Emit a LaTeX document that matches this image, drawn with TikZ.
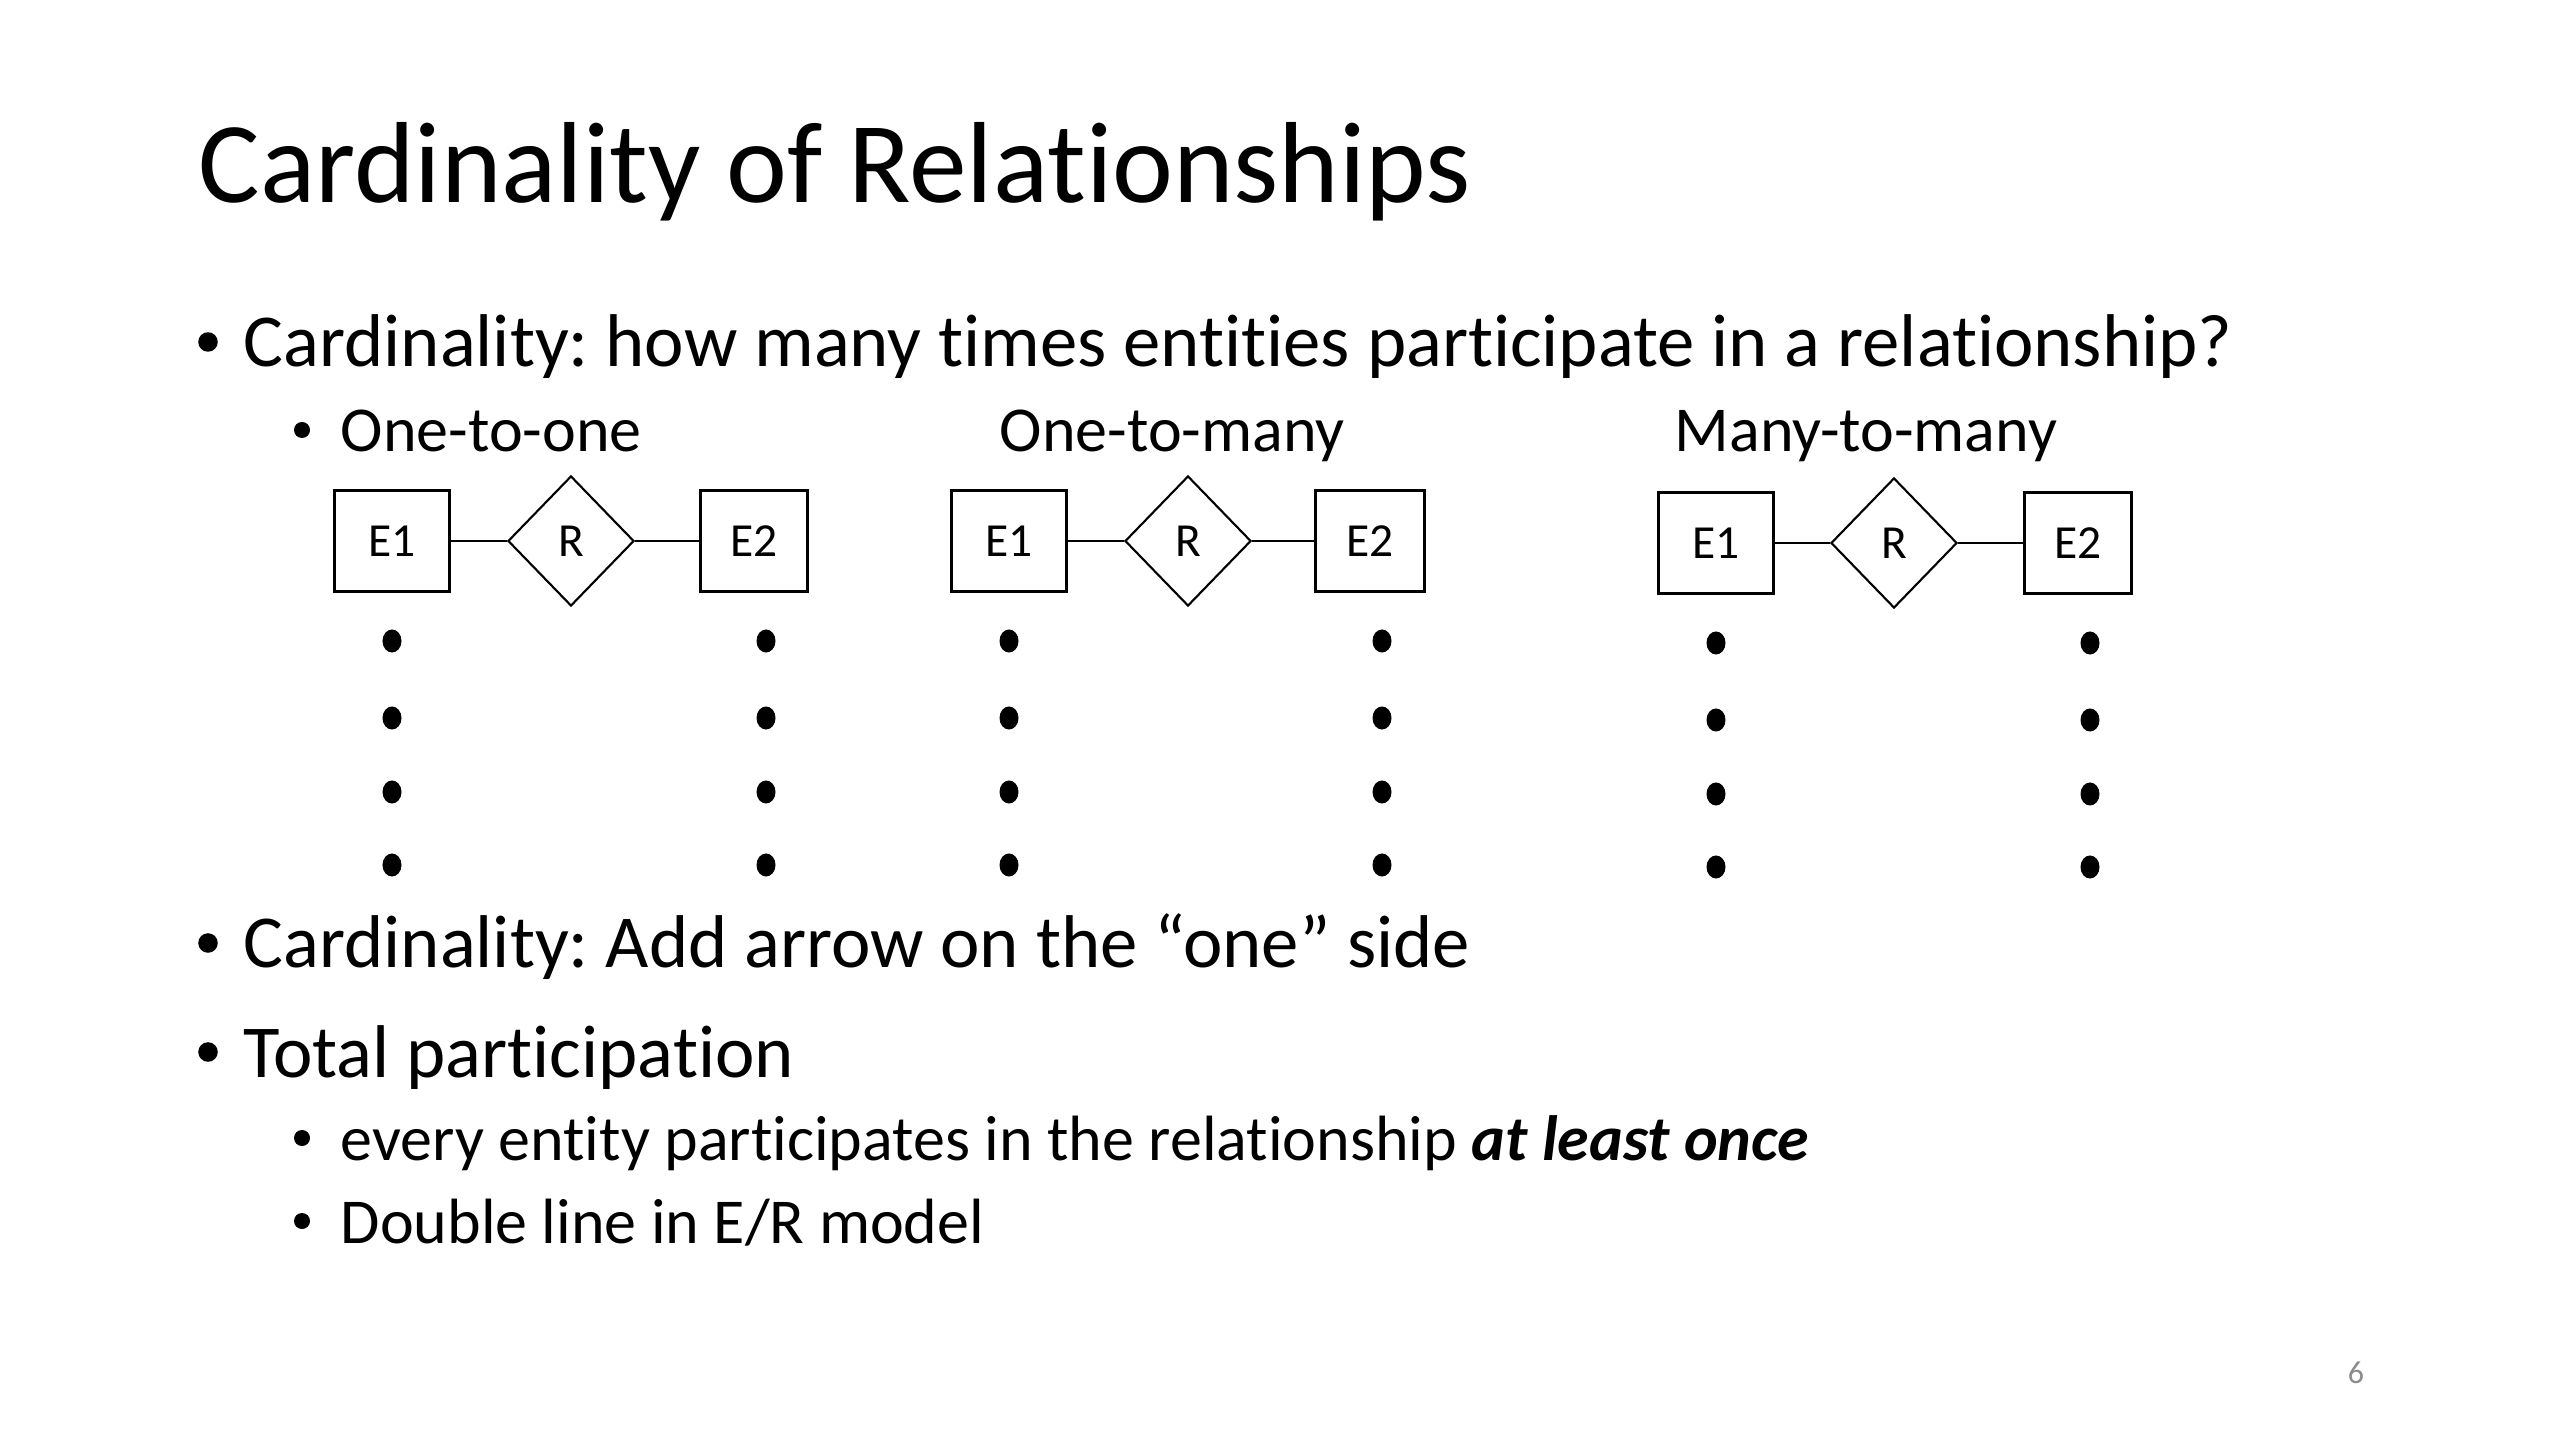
\documentclass[tikz,border=0pt]{standalone}
\usepackage{fontspec}
\setmainfont{Carlito}[Ligatures=NoCommon]
\usepackage{tikz}
\usetikzlibrary{shapes.geometric}

\definecolor{pagegray}{RGB}{140,140,140}

\tikzset{
	titletext/.style={anchor=base west, inner sep=0pt, font=\fontsize{32.8}{40}\selectfont},
	firsttext/.style={anchor=base west, inner sep=0pt, font=\fontsize{21.25}{26}\selectfont},
	secondtext/.style={anchor=base west, inner sep=0pt, font=\fontsize{18.2}{22}\selectfont},
	firstbullet/.style={circle, fill=black, inner sep=0pt, minimum size=0.195cm},
	secondbullet/.style={circle, fill=black, inner sep=0pt, minimum size=0.16cm},
	entity/.style={draw, line width=0.85pt, inner sep=0pt, minimum width=1.14cm, minimum height=1cm, font=\fontsize{13.5}{16}\selectfont},
	relation/.style={draw, diamond, line width=0.6pt, inner sep=0pt, minimum width=1.26cm, minimum height=1.3cm, font=\fontsize{13.5}{16}\selectfont},
	link/.style={line width=0.6pt},
	dotmark/.style={ellipse, fill=black, inner sep=0pt, minimum width=0.19cm, minimum height=0.23cm},
}

\begin{document}
\frenchspacing
\begin{tikzpicture}[x=0.01cm, y=-0.01cm]
	\fill[white] (0,0) rectangle (2560,1440);
	\useasboundingbox (0,0) rectangle (2560,1440);
	%
	\node[titletext] (title) at (198,203) {Cardinality of Relationships};
	%
	\node[firstbullet] (b1) at (208,342) {};
	\node[firsttext] (t1) at (243,367) {Cardinality: how many times entities participate in a relationship?};
	\node[secondbullet] (b11) at (302,430) {};
	\node[secondtext] (oneone) at (340,452) {One-to-one};
	\node[secondtext] (onemany) at (999,452) {One-to-many};
	\node[secondtext] (manymany) at (1674,452) {Many-to-many};
	%
	% one-to-one
	\node[entity] (a1) at (392,541) {E1};
	\node[relation] (ar) at (571,541) {R};
	\node[entity, minimum width=1.06cm] (a2) at (754,541) {E2};
	\draw[link] (a1) -- (ar);
	\draw[link] (ar) -- (a2);
	% one-to-many
	\node[entity] (b1e) at (1009,541) {E1};
	\node[relation] (br) at (1188,541) {R};
	\node[entity, minimum width=1.08cm] (b2e) at (1370,541) {E2};
	\draw[link] (b1e) -- (br);
	\draw[link] (br) -- (b2e);
	% many-to-many
	\node[entity] (c1) at (1716,543) {E1};
	\node[relation] (cr) at (1894,543) {R};
	\node[entity, minimum width=1.06cm] (c2) at (2078,543) {E2};
	\draw[link] (c1) -- (cr);
	\draw[link] (cr) -- (c2);
	%
	\foreach \dx/\dd in {392/0,766/0,1009/0,1382/0,1716/2,2090/2}
		\foreach \dy in {641,718,792,865}
			\node[dotmark] (dot-\dx-\dy) at (\dx,\dy+\dd) {};
	%
	\node[firstbullet] (b2) at (208,943) {};
	\node[firsttext] (t2) at (243,968) {Cardinality: Add arrow on the “one” side};
	\node[firstbullet] (b3) at (208,1052) {};
	\node[firsttext] (t3) at (243,1077) {Total participation};
	\node[secondbullet] (b31) at (302,1138) {};
	\node[secondtext] (t31) at (340,1160) {every entity participates in the relationship \textbf{\textit{at least once}}};
	\node[secondbullet] (b32) at (302,1221) {};
	\node[secondtext] (t32) at (340,1243) {Double line in E/R model};
	%
	\node[anchor=base, inner sep=0pt, text=pagegray, font=\fontsize{9.1}{11}\selectfont] (pagenum) at (2356,1383) {6};
\end{tikzpicture}
\end{document}
